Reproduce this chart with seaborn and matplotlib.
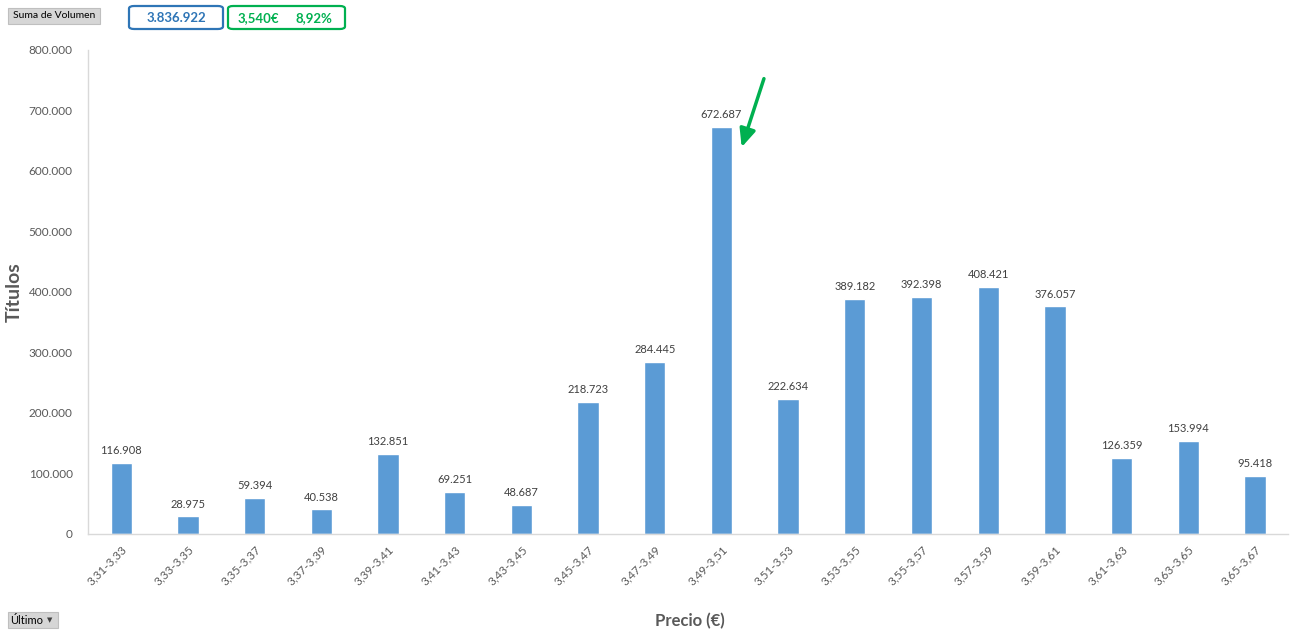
import matplotlib
matplotlib.use("Agg")
import matplotlib.pyplot as plt
from matplotlib.patches import FancyBboxPatch
import seaborn as sns
import pandas as pd

categories = ["3,31-3,33", "3,33-3,35", "3,35-3,37", "3,37-3,39", "3,39-3,41", "3,41-3,43",
              "3,43-3,45", "3,45-3,47", "3,47-3,49", "3,49-3,51", "3,51-3,53", "3,53-3,55",
              "3,55-3,57", "3,57-3,59", "3,59-3,61", "3,61-3,63", "3,63-3,65", "3,65-3,67"]
volumes = [116908, 28975, 59394, 40538, 132851, 69251, 48687, 218723, 284445, 672687,
           222634, 389182, 392398, 408421, 376057, 126359, 153994, 95418]
yticks = [0, 100000, 200000, 300000, 400000, 500000, 600000, 700000, 800000]

def fmt(v):
    return f"{v:,}".replace(",", ".")

sns.set_theme(style="white")
plt.rcParams['font.family'] = ['Lato', 'DejaVu Sans']

df = pd.DataFrame({"Precio": categories, "Titulos": volumes})

fig = plt.figure(figsize=(12.92, 6.36), dpi=100)
ax = fig.add_axes([0.0681, 0.1604, 0.929, 0.761])
sns.barplot(data=df, x="Precio", y="Titulos", order=categories, color="#5b9bd5",
            width=0.32, saturation=1, ax=ax)

ax.set_ylim(0, 800000)
ax.set_xlim(-0.5, len(categories) - 0.5)
ax.set_yticks(yticks)
ax.set_yticklabels([fmt(v) for v in yticks], fontsize=8.5, color="#595959")
ax.set_xticks(range(len(categories)))
ax.set_xticklabels(categories, rotation=45, ha="right", rotation_mode="anchor",
                   fontsize=8.5, color="#595959")
ax.tick_params(axis="x", length=0, pad=7)
ax.tick_params(axis="y", length=0, pad=11)

for s in ["top", "right"]:
    ax.spines[s].set_visible(False)
for s in ["left", "bottom"]:
    ax.spines[s].set_color("#d9d9d9")
    ax.spines[s].set_linewidth(1)

for i, v in enumerate(volumes):
    ax.annotate(fmt(v), xy=(i, v), xytext=(0, 5), textcoords="offset points",
                ha="center", va="bottom", fontsize=8, color="#404040")

ax.set_ylabel("Títulos", fontsize=14, fontweight="bold", color="#595959")
ax.yaxis.set_label_coords(-0.054, 0.5)
ax.set_xlabel("")
fig.text(0.534, 0.024, "Precio (€)", ha="center", va="center", fontsize=12,
         fontweight="bold", color="#595959")

ax.annotate("", xy=(9.29, 635000), xytext=(9.65, 757000),
            arrowprops=dict(arrowstyle="-|>,head_length=0.9,head_width=0.4",
                            color="#00b050", lw=2.5))

W, H = 1292.0, 636.0
def box(x0, y0, x1, y1, ec, fc, rounded):
    style = "round,pad=0,rounding_size=0.004" if rounded else "square,pad=0"
    p = FancyBboxPatch((x0 / W, 1 - y1 / H), (x1 - x0) / W, (y1 - y0) / H,
                       boxstyle=style, transform=fig.transFigure,
                       fc=fc, ec=ec, lw=1.6 if rounded else 0.8)
    fig.patches.append(p)

box(8, 8, 100, 24, "#bfbfbf", "#d6d6d6", False)
fig.text(54 / W, 1 - 16 / H, "Suma de Volumen", ha="center", va="center", fontsize=7.5,
         color="#000000")
box(129, 6, 223, 29, "#2e75b6", "white", True)
fig.text(176 / W, 1 - 18 / H, "3.836.922", ha="center", va="center", fontsize=9.5,
         fontweight="bold", color="#2e75b6")
box(228, 6, 345, 29, "#00b050", "white", True)
fig.text(258 / W, 1 - 18 / H, "3,540€", ha="center", va="center", fontsize=9.5,
         fontweight="bold", color="#00b050")
fig.text(314 / W, 1 - 18 / H, "8,92%", ha="center", va="center", fontsize=9.5,
         fontweight="bold", color="#00b050")
box(8, 612, 58, 628, "#bfbfbf", "#d6d6d6", False)
fig.text(10 / W, 1 - 620 / H, "Último", ha="left", va="center", fontsize=8, color="#000000")
fig.text(50 / W, 1 - 620 / H, "▼", ha="center", va="center", fontsize=5, color="#404040",
         family=['DejaVu Sans'])

fig.savefig("out.png", dpi=100)
